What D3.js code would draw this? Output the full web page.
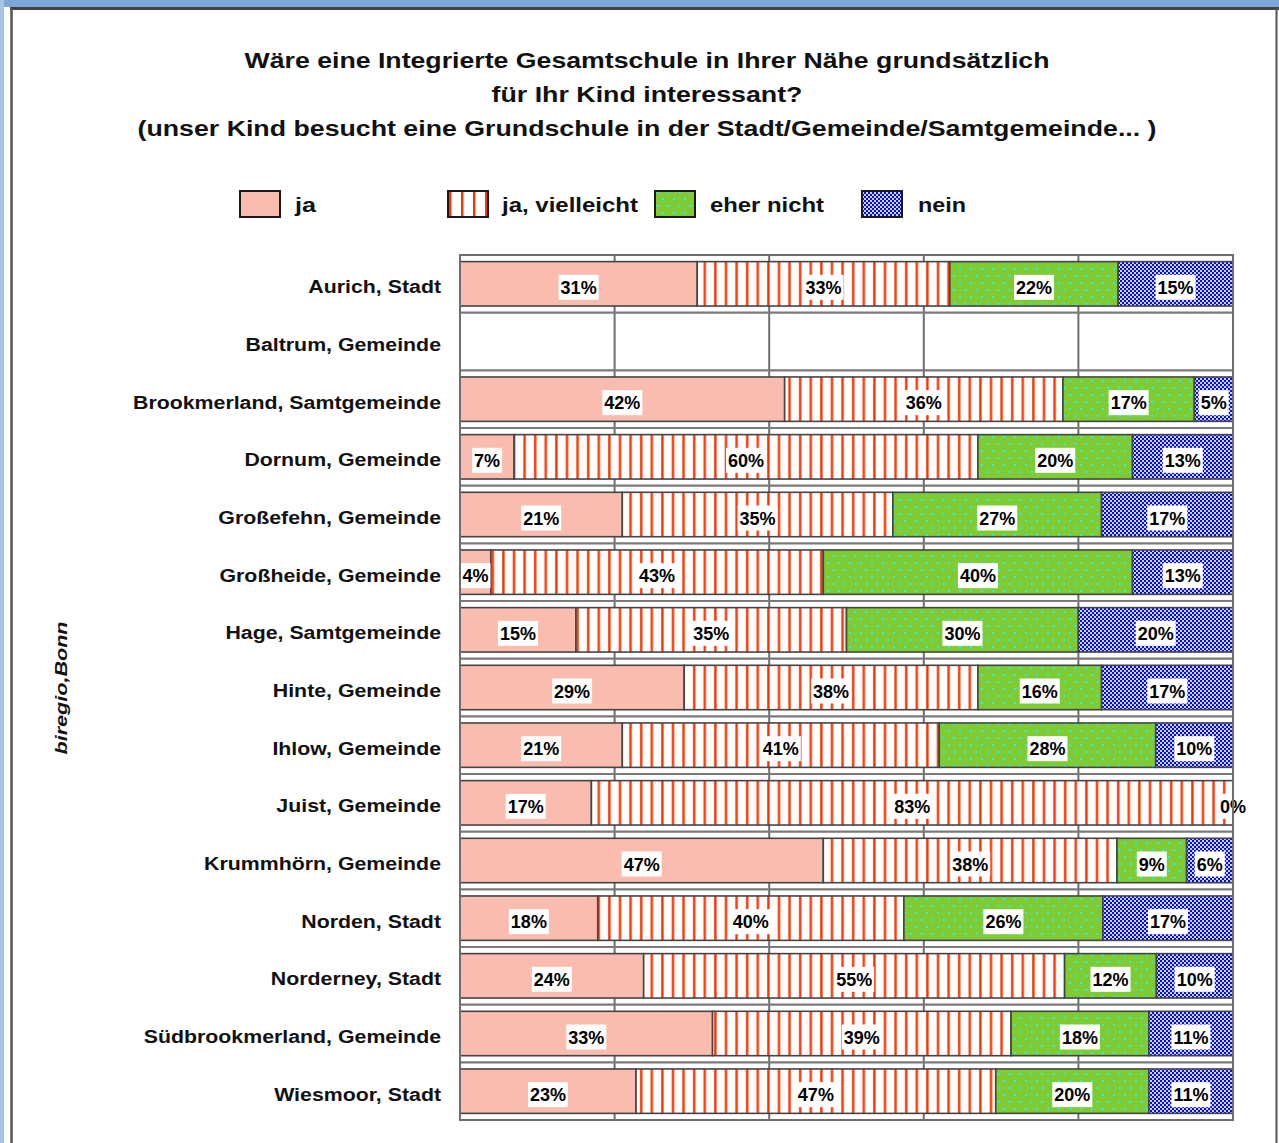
<!DOCTYPE html>
<html>
<head>
<meta charset="utf-8">
<script src="https://cdn.jsdelivr.net/npm/d3@7"></script>
<style>
  html, body { margin: 0; padding: 0; background: #fff; }
  svg { display: block; }
  text { font-family: "Liberation Sans", Arial, sans-serif; }
</style>
</head>
<body>
<svg id="chart" width="1279" height="1143"></svg>
<script>
// ---------- DATA ----------
const titleLines = [
  "Wäre eine Integrierte Gesamtschule in Ihrer Nähe grundsätzlich",
  "für Ihr Kind interessant?",
  "(unser Kind besucht eine Grundschule in der Stadt/Gemeinde/Samtgemeinde... )"
];
const yAxisTitle = "biregio,Bonn";
const seriesNames = ["ja", "ja, vielleicht", "eher nicht", "nein"];
const categories = [
  "Aurich, Stadt",
  "Baltrum, Gemeinde",
  "Brookmerland, Samtgemeinde",
  "Dornum, Gemeinde",
  "Großefehn, Gemeinde",
  "Großheide, Gemeinde",
  "Hage, Samtgemeinde",
  "Hinte, Gemeinde",
  "Ihlow, Gemeinde",
  "Juist, Gemeinde",
  "Krummhörn, Gemeinde",
  "Norden, Stadt",
  "Norderney, Stadt",
  "Südbrookmerland, Gemeinde",
  "Wiesmoor, Stadt"
];
const ja           = [31, null, 42,  7, 21,  4, 15, 29, 21, 17, 47, 18, 24, 33, 23];
const jaVielleicht = [33, null, 36, 60, 35, 43, 35, 38, 41, 83, 38, 40, 55, 39, 47];
const eherNicht    = [22, null, 17, 20, 27, 40, 30, 16, 28,  0,  9, 26, 12, 18, 20];
const nein         = [15, null,  5, 13, 17, 13, 20, 17, 10, null, 6, 17, 10, 11, 11];
const xTicks = [0, 20, 40, 60, 80, 100];

// ---------- SETUP ----------
const svg = d3.select("#chart");
const W = 1279, H = 1143;
const plot = { left: 460, right: 1233, top: 255, bottom: 1120 };

// page frame (window-like border)
svg.append("rect").attr("x", 0).attr("y", 0).attr("width", W).attr("height", 7).attr("fill", "#7fa6d8");
svg.append("rect").attr("x", 0).attr("y", 0).attr("width", 4).attr("height", H).attr("fill", "#a9c3e6");
svg.append("line").attr("x1", 10).attr("x2", W).attr("y1", 8.5).attr("y2", 8.5).attr("stroke", "#444").attr("stroke-width", 3);
svg.append("line").attr("x1", 11.5).attr("x2", 11.5).attr("y1", 8).attr("y2", H).attr("stroke", "#555").attr("stroke-width", 2.5);
svg.append("line").attr("x1", 1276.5).attr("x2", 1276.5).attr("y1", 8).attr("y2", H).attr("stroke", "#555").attr("stroke-width", 2);

// ---------- PATTERNS ----------
const defs = svg.append("defs");
// ja, vielleicht: red vertical stripes
const pStripe = defs.append("pattern").attr("id", "pStripe").attr("patternUnits", "userSpaceOnUse")
  .attr("width", 10.6).attr("height", 10);
pStripe.append("rect").attr("width", 10.6).attr("height", 10).attr("fill", "#fff");
pStripe.append("rect").attr("x", 4).attr("width", 2.4).attr("height", 10).attr("fill", "#ff3300");
// legend variant with wider stripe spacing
const pStripeL = defs.append("pattern").attr("id", "pStripeL").attr("patternUnits", "userSpaceOnUse")
  .attr("width", 12).attr("height", 10);
pStripeL.append("rect").attr("width", 12).attr("height", 10).attr("fill", "#fff");
pStripeL.append("rect").attr("x", 5).attr("width", 2.4).attr("height", 10).attr("fill", "#ff3300");
// eher nicht: green with cyan dots
const pGreen = defs.append("pattern").attr("id", "pGreen").attr("patternUnits", "userSpaceOnUse")
  .attr("width", 11).attr("height", 14);
pGreen.append("rect").attr("width", 11).attr("height", 14).attr("fill", "#7ecb34");
pGreen.append("rect").attr("x", 2).attr("y", 2).attr("width", 2).attr("height", 2).attr("fill", "#1ff2f2");
pGreen.append("rect").attr("x", 7.5).attr("y", 9).attr("width", 2).attr("height", 2).attr("fill", "#1ff2f2");
// nein: blue dotted
const pBlue = defs.append("pattern").attr("id", "pBlue").attr("patternUnits", "userSpaceOnUse")
  .attr("width", 4).attr("height", 4);
pBlue.append("rect").attr("width", 4).attr("height", 4).attr("fill", "#c9d3f3");
pBlue.append("rect").attr("x", 0).attr("y", 0).attr("width", 2).attr("height", 2).attr("fill", "#0a0af0");
pBlue.append("rect").attr("x", 2).attr("y", 2).attr("width", 2).attr("height", 2).attr("fill", "#0a0af0");

const fills = ["#f9bcae", "url(#pStripe)", "url(#pGreen)", "url(#pBlue)"];
const legendFills = ["#f9bcae", "url(#pStripeL)", "url(#pGreen)", "url(#pBlue)"];

// ---------- TITLE ----------
const titleSpec = [
  { y: 68, w: 805 },
  { y: 102, w: 311 },
  { y: 136, w: 1019 }
];
titleLines.forEach((t, i) => {
  svg.append("text")
    .attr("x", 647).attr("y", titleSpec[i].y)
    .attr("text-anchor", "middle")
    .attr("font-size", 22).attr("font-weight", "bold").attr("fill", "#111")
    .attr("textLength", titleSpec[i].w).attr("lengthAdjust", "spacingAndGlyphs")
    .text(t);
});

// ---------- LEGEND ----------
const legendSpec = [
  { bx: 240, tx: 295, tw: 21 },
  { bx: 448, tx: 502, tw: 136 },
  { bx: 655, tx: 710, tw: 114 },
  { bx: 862, tx: 918, tw: 48 }
];
const legend = svg.append("g");
seriesNames.forEach((name, i) => {
  legend.append("rect")
    .attr("x", legendSpec[i].bx).attr("y", 191).attr("width", 40).attr("height", 26)
    .attr("fill", legendFills[i]).attr("stroke", "#1a1a1a").attr("stroke-width", 2);
  legend.append("text")
    .attr("x", legendSpec[i].tx).attr("y", 212)
    .attr("font-size", 20).attr("font-weight", "bold").attr("fill", "#111")
    .attr("textLength", legendSpec[i].tw).attr("lengthAdjust", "spacingAndGlyphs")
    .text(name);
});

// ---------- SCALES ----------
const x = d3.scaleLinear().domain([0, 100]).range([plot.left, plot.right]);
const y = d3.scaleBand().domain(categories).range([plot.top, plot.bottom])
  .paddingInner(0.23).paddingOuter(0.115);
const step = y.step();

// ---------- GRID ----------
const grid = svg.append("g");
xTicks.forEach(t => {
  grid.append("line")
    .attr("x1", x(t)).attr("x2", x(t)).attr("y1", plot.top).attr("y2", plot.bottom)
    .attr("stroke", "#6e6e6e").attr("stroke-width", 2);
});
d3.range(categories.length + 1).forEach(i => {
  const yy = plot.top + i * step;
  grid.append("line")
    .attr("x1", plot.left).attr("x2", plot.right).attr("y1", yy).attr("y2", yy)
    .attr("stroke", "#7a7a7a").attr("stroke-width", 2.2);
});

// ---------- STACKED DATA ----------
const seriesArrays = [ja, jaVielleicht, eherNicht, nein];
const segments = [];
categories.forEach((cat, ci) => {
  const vals = seriesArrays.map(a => a[ci]);
  const total = d3.sum(vals.filter(v => v != null));
  if (!total) return;
  let cum = 0;
  vals.forEach((v, si) => {
    if (v == null) return;
    const x0 = cum / total * 100;
    cum += v;
    const x1 = cum / total * 100;
    segments.push({ cat, si, v, x0, x1 });
  });
});

// ---------- BARS ----------
svg.append("g").selectAll("rect").data(segments).join("rect")
  .attr("x", d => x(d.x0))
  .attr("y", d => y(d.cat))
  .attr("width", d => x(d.x1) - x(d.x0))
  .attr("height", y.bandwidth())
  .attr("fill", d => fills[d.si])
  .attr("stroke", "#444").attr("stroke-width", 1.6);

// ---------- BAR LABELS ----------
const lblG = svg.append("g");
segments.forEach(d => {
  const cx = (x(d.x0) + x(d.x1)) / 2;
  const cy = y(d.cat) + y.bandwidth() / 2;
  const g = lblG.append("g");
  const t = g.append("text")
    .attr("x", cx).attr("y", cy + 4)
    .attr("text-anchor", "middle").attr("dominant-baseline", "central")
    .attr("font-size", 18).attr("font-weight", "bold").attr("fill", "#000")
    .text(d.v + "%");
  const w = t.node().getComputedTextLength();
  g.insert("rect", "text")
    .attr("x", cx - w / 2 - 2).attr("y", cy - 9)
    .attr("width", w + 4).attr("height", 25)
    .attr("fill", "#fff");
});

// ---------- PLOT FRAME ----------
svg.append("rect")
  .attr("x", plot.left).attr("y", plot.top)
  .attr("width", plot.right - plot.left).attr("height", plot.bottom - plot.top)
  .attr("fill", "none").attr("stroke", "#6e6e6e").attr("stroke-width", 2);

// ---------- Y AXIS ----------
const yAxis = svg.append("g")
  .attr("transform", `translate(${plot.left},3)`)
  .call(d3.axisLeft(y).tickSize(0).tickPadding(19));
yAxis.select(".domain").remove();
const yTexts = yAxis.selectAll("text")
  .attr("font-family", "'Liberation Sans', Arial, sans-serif")
  .attr("font-size", 17.5).attr("font-weight", "bold").attr("fill", "#111")
  .attr("dy", "0.38em");
// uniform horizontal stretch so that the longest label matches the reference width
let refW = 0;
yTexts.each(function(d) { if (d === "Brookmerland, Samtgemeinde") refW = this.getComputedTextLength(); });
const k = refW ? 308 / refW : 1;
yTexts.each(function() {
  const w = this.getComputedTextLength();
  d3.select(this).attr("textLength", w * k).attr("lengthAdjust", "spacingAndGlyphs");
});

// y axis title
svg.append("text")
  .attr("transform", "translate(67,688) rotate(-90)")
  .attr("text-anchor", "middle")
  .attr("font-size", 17).attr("font-weight", "bold").attr("font-style", "italic").attr("fill", "#111")
  .attr("textLength", 133).attr("lengthAdjust", "spacingAndGlyphs")
  .text(yAxisTitle);
</script>
</body>
</html>
